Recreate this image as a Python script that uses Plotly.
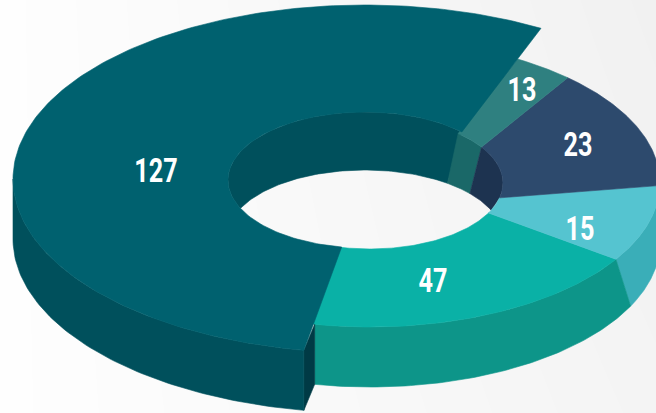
import numpy as np
import plotly.graph_objects as go

# ---- data ----
categories = ["A", "B", "C", "D", "E"]
values = [127, 47, 15, 23, 13]
labels = ["127", "47", "15", "23", "13"]

# ---- styles ----
top_colors = ["#00616f", "#0ab1a6", "#55c4d0", "#2d4a6d", "#2f8080"]
outer_wall_colors = ["#00505c", "#0d9589", "#3aaeb8"]
inner_wall_colors = ["#00505c", "#1a6868", "#1d3350"]
cut_color = "#003a45"

# ---- layout of the drawing (pixel axes) ----
W, H = 656, 413
DEPTH = 60
START = 60.0
OUT_BIG = (365, 179, 352, 174)
IN_BIG = (365, 180, 137, 68)
OUT_REST = (370, 183, 290, 144)
IN_REST = (370, 183, 133, 66)
HOLE_FLOOR = (365, 236, 137, 66)
# hand-drawn perspective: the seams deviate from the true share angles
TRIM_OUT = [0, -4.2, -10.4, -3.4, 7.8, -0.6]
TRIM_IN = [-15, -3, -5.4, -15.4, -6.2, -11.5]
TRIM_BIG_END = -3.2
label_anchor = [(156, 173.5), (433, 283), (580, 231.5), (578, 147.5), (522, 92.5)]

cum = START + np.concatenate([[0], np.cumsum(values)]) * 360.0 / sum(values)
a_out = cum + np.array(TRIM_OUT)
a_in = cum + np.array(TRIM_IN)
big_end = cum[1] + TRIM_BIG_END


def arc(e, a0, a1, dy=0, n=80):
    t = np.radians(np.linspace(a0, a1, n))
    return e[0] + e[2] * np.cos(t), e[1] - e[3] * np.sin(t) + dy


def poly(color, *parts):
    xs = np.concatenate([p[0] for p in parts])
    ys = np.concatenate([p[1] for p in parts])
    xs = np.append(xs, xs[0])
    ys = np.append(ys, ys[0])
    return go.Scatter(x=xs, y=ys, mode="lines", fill="toself", fillcolor=color,
                      line=dict(width=0.6, color=color), hoverinfo="skip", showlegend=False)


fig = go.Figure()

# soft background
fig.add_trace(go.Heatmap(x=[0, W], y=[0, H], z=[[254, 241], [254, 244]], zsmooth="best",
                         colorscale=[[0, "rgb(241,241,241)"], [1, "rgb(254,254,254)"]],
                         showscale=False, hoverinfo="skip"))

# inner walls of the hole
fig.add_trace(poly(inner_wall_colors[0], arc(IN_BIG, a_in[0], 204), arc(HOLE_FLOOR, 155, 53)))
fig.add_trace(poly(inner_wall_colors[1], arc(IN_REST, a_in[4], a_in[5]), arc(HOLE_FLOOR, 53, 40)))
fig.add_trace(poly(inner_wall_colors[2], arc(IN_REST, a_in[3], a_in[4]), arc(HOLE_FLOOR, 40, 23)))

# outer walls
fig.add_trace(poly(outer_wall_colors[2], arc(OUT_REST, a_out[2], a_out[3]),
                   arc(OUT_REST, a_out[3], 334, DEPTH)))
fig.add_trace(poly(outer_wall_colors[1], arc(OUT_REST, a_out[1], a_out[2]),
                   arc(OUT_REST, 334, a_out[1], DEPTH)))

# top faces of the small slices (the first one runs on under the raised slice)
for i in range(1, 5):
    under = 3 if i == 1 else 0
    fig.add_trace(poly(top_colors[i], arc(OUT_REST, a_out[i] - under, a_out[i + 1]),
                       arc(IN_REST, a_in[i + 1], a_in[i] - under)))

# raised big slice: wall, cut face, top
bx, by = arc(OUT_BIG, big_end, big_end, n=1)
rx, ry = arc(OUT_REST, a_out[1], a_out[1], n=1)
fig.add_trace(poly(cut_color, (rx, ry), (bx, by), (bx, by + DEPTH), (rx, ry + DEPTH)))
fig.add_trace(poly(outer_wall_colors[0], arc(OUT_BIG, 180, big_end),
                   arc(OUT_BIG, big_end, 180, DEPTH)))
fig.add_trace(poly(top_colors[0], arc(OUT_BIG, a_out[0], big_end, n=200),
                   arc(IN_BIG, a_in[1], a_in[0], n=120)))

# labels
fig.add_trace(go.Scatter(x=[p[0] for p in label_anchor], y=[p[1] for p in label_anchor],
                         text=labels, mode="text", showlegend=False, hoverinfo="skip",
                         textposition="middle center",
                         textfont=dict(family="Roboto, sans-serif",
                                       size=34, color="white", weight="bold")))

fig.update_layout(width=W, height=H, margin=dict(l=0, r=0, t=0, b=0),
                  paper_bgcolor="white", plot_bgcolor="white",
                  xaxis=dict(range=[0, W], visible=False, fixedrange=True),
                  yaxis=dict(range=[H, 0], visible=False, fixedrange=True))

# no page margin; condense the label glyphs, since no condensed face is installed
post = """
document.documentElement.style.margin='0';
document.body.style.margin='0';
document.body.style.overflow='hidden';
function condense(){
  document.querySelectorAll('.textpoint text').forEach(function(t){
    if(t.getAttribute('lengthAdjust')) return;
    var w=t.getComputedTextLength();
    t.setAttribute('lengthAdjust','spacingAndGlyphs');
    t.setAttribute('textLength',(w*0.74).toFixed(1));
  });
}
condense();
setTimeout(condense,30);
"""
fig.write_html("out.html", config={"displayModeBar": False}, post_script=post)
